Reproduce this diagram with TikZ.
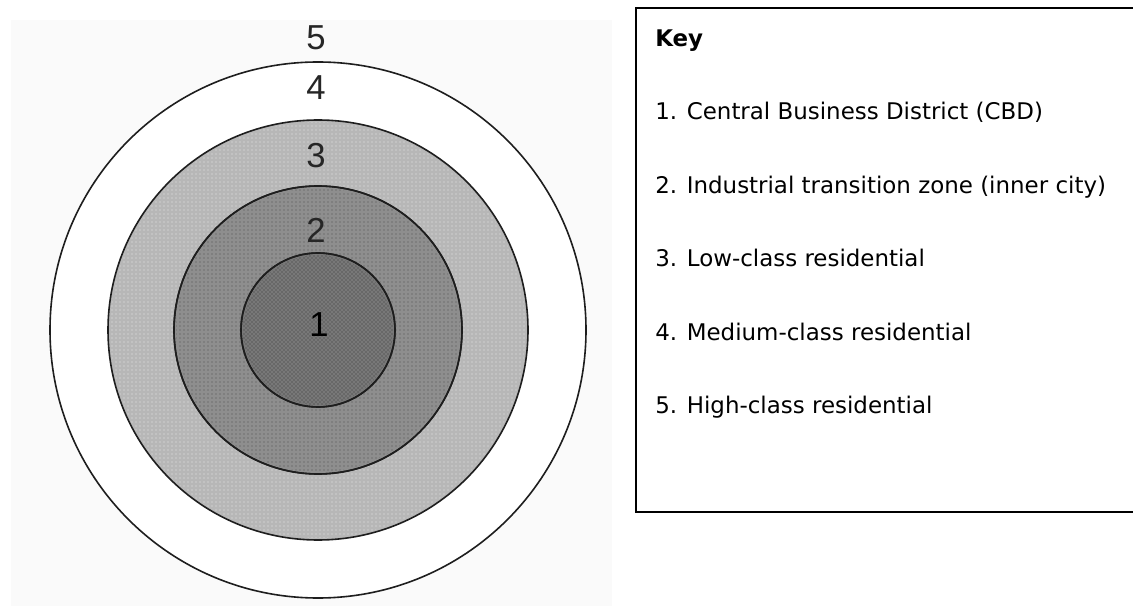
\documentclass[tikz,border=0pt]{standalone}
\usepackage{fontspec}
\usetikzlibrary{patterns}
\setmainfont{DejaVu Sans}
\newfontfamily\zonefont{Liberation Sans}
\definecolor{panelgray}{HTML}{FAFAFA}
\definecolor{zonethree}{HTML}{B7B7B7}
\definecolor{zonetwo}{HTML}{8E8E8E}
\definecolor{zoneone}{HTML}{787878}
\definecolor{ringline}{HTML}{1E1E1E}
\begin{document}
\begin{tikzpicture}[x=0.75pt,y=-0.75pt,
  ring/.style={circle, draw=ringline, line width=1.2pt, inner sep=0pt,
               minimum size=#1*1.5pt},
  grain/.style={circle, inner sep=0pt, minimum size=#1*1.5pt},
  zonelabel/.style={inner sep=0pt, font=\zonefont\fontsize{26pt}{26pt}\selectfont,
                    text=black!85},
  keybox/.style={draw=black, line width=1.3pt, inner sep=0pt, anchor=north west},
  keyitem/.style={inner sep=0pt, anchor=base west,
                  font=\fontsize{17.2pt}{20pt}\selectfont}]
\useasboundingbox (0,0) rectangle (1133,606);
\clip (0,0) rectangle (1133,606);

% pale panel behind the zone model
\fill[panelgray] (11,20) rectangle (612,606);

% concentric zones, outermost first, each with a light halftone grain
\node[ring=268, fill=white]     (z4) at (318,330) {};
\node[ring=210, fill=zonethree] (z3) at (z4.center) {};
\node[grain=208, pattern=dots, pattern color=white!70!zonethree] (g3) at (z4.center) {};
\node[ring=144, fill=zonetwo]   (z2) at (z4.center) {};
\node[grain=142, pattern=dots, pattern color=black!45!zonetwo] (g2) at (z4.center) {};
\node[ring=77,  fill=zoneone]   (z1) at (z4.center) {};
\node[grain=75, pattern=crosshatch dots, pattern color=black!55!zoneone] (g1) at (z4.center) {};
\node[ring=144] (r2) at (z4.center) {};
\node[ring=77]  (r1) at (z4.center) {};

% zone numbers
\node[zonelabel] (n5) at (316,38)  {5};
\node[zonelabel] (n4) at (316,88)  {4};
\node[zonelabel] (n3) at (316,156) {3};
\node[zonelabel] (n2) at (316,230) {2};
\node[zonelabel, text=black] (n1) at (319,325) {1};

% key
\node[keybox, minimum width=520*0.75pt, minimum height=504*0.75pt]
  (key) at (635,7) {};
\node[keyitem, font=\bfseries\fontsize{17.2pt}{20pt}\selectfont] (k0) at (655,47) {Key};
\node[keyitem] (k1) at (655,120) {1. Central Business District (CBD)};
\node[keyitem] (k2) at (655,194) {2. Industrial transition zone (inner city)};
\node[keyitem] (k3) at (655,267) {3. Low-class residential};
\node[keyitem] (k4) at (655,340) {4. Medium-class residential};
\node[keyitem] (k5) at (655,413) {5. High-class residential};
\end{tikzpicture}
\end{document}
